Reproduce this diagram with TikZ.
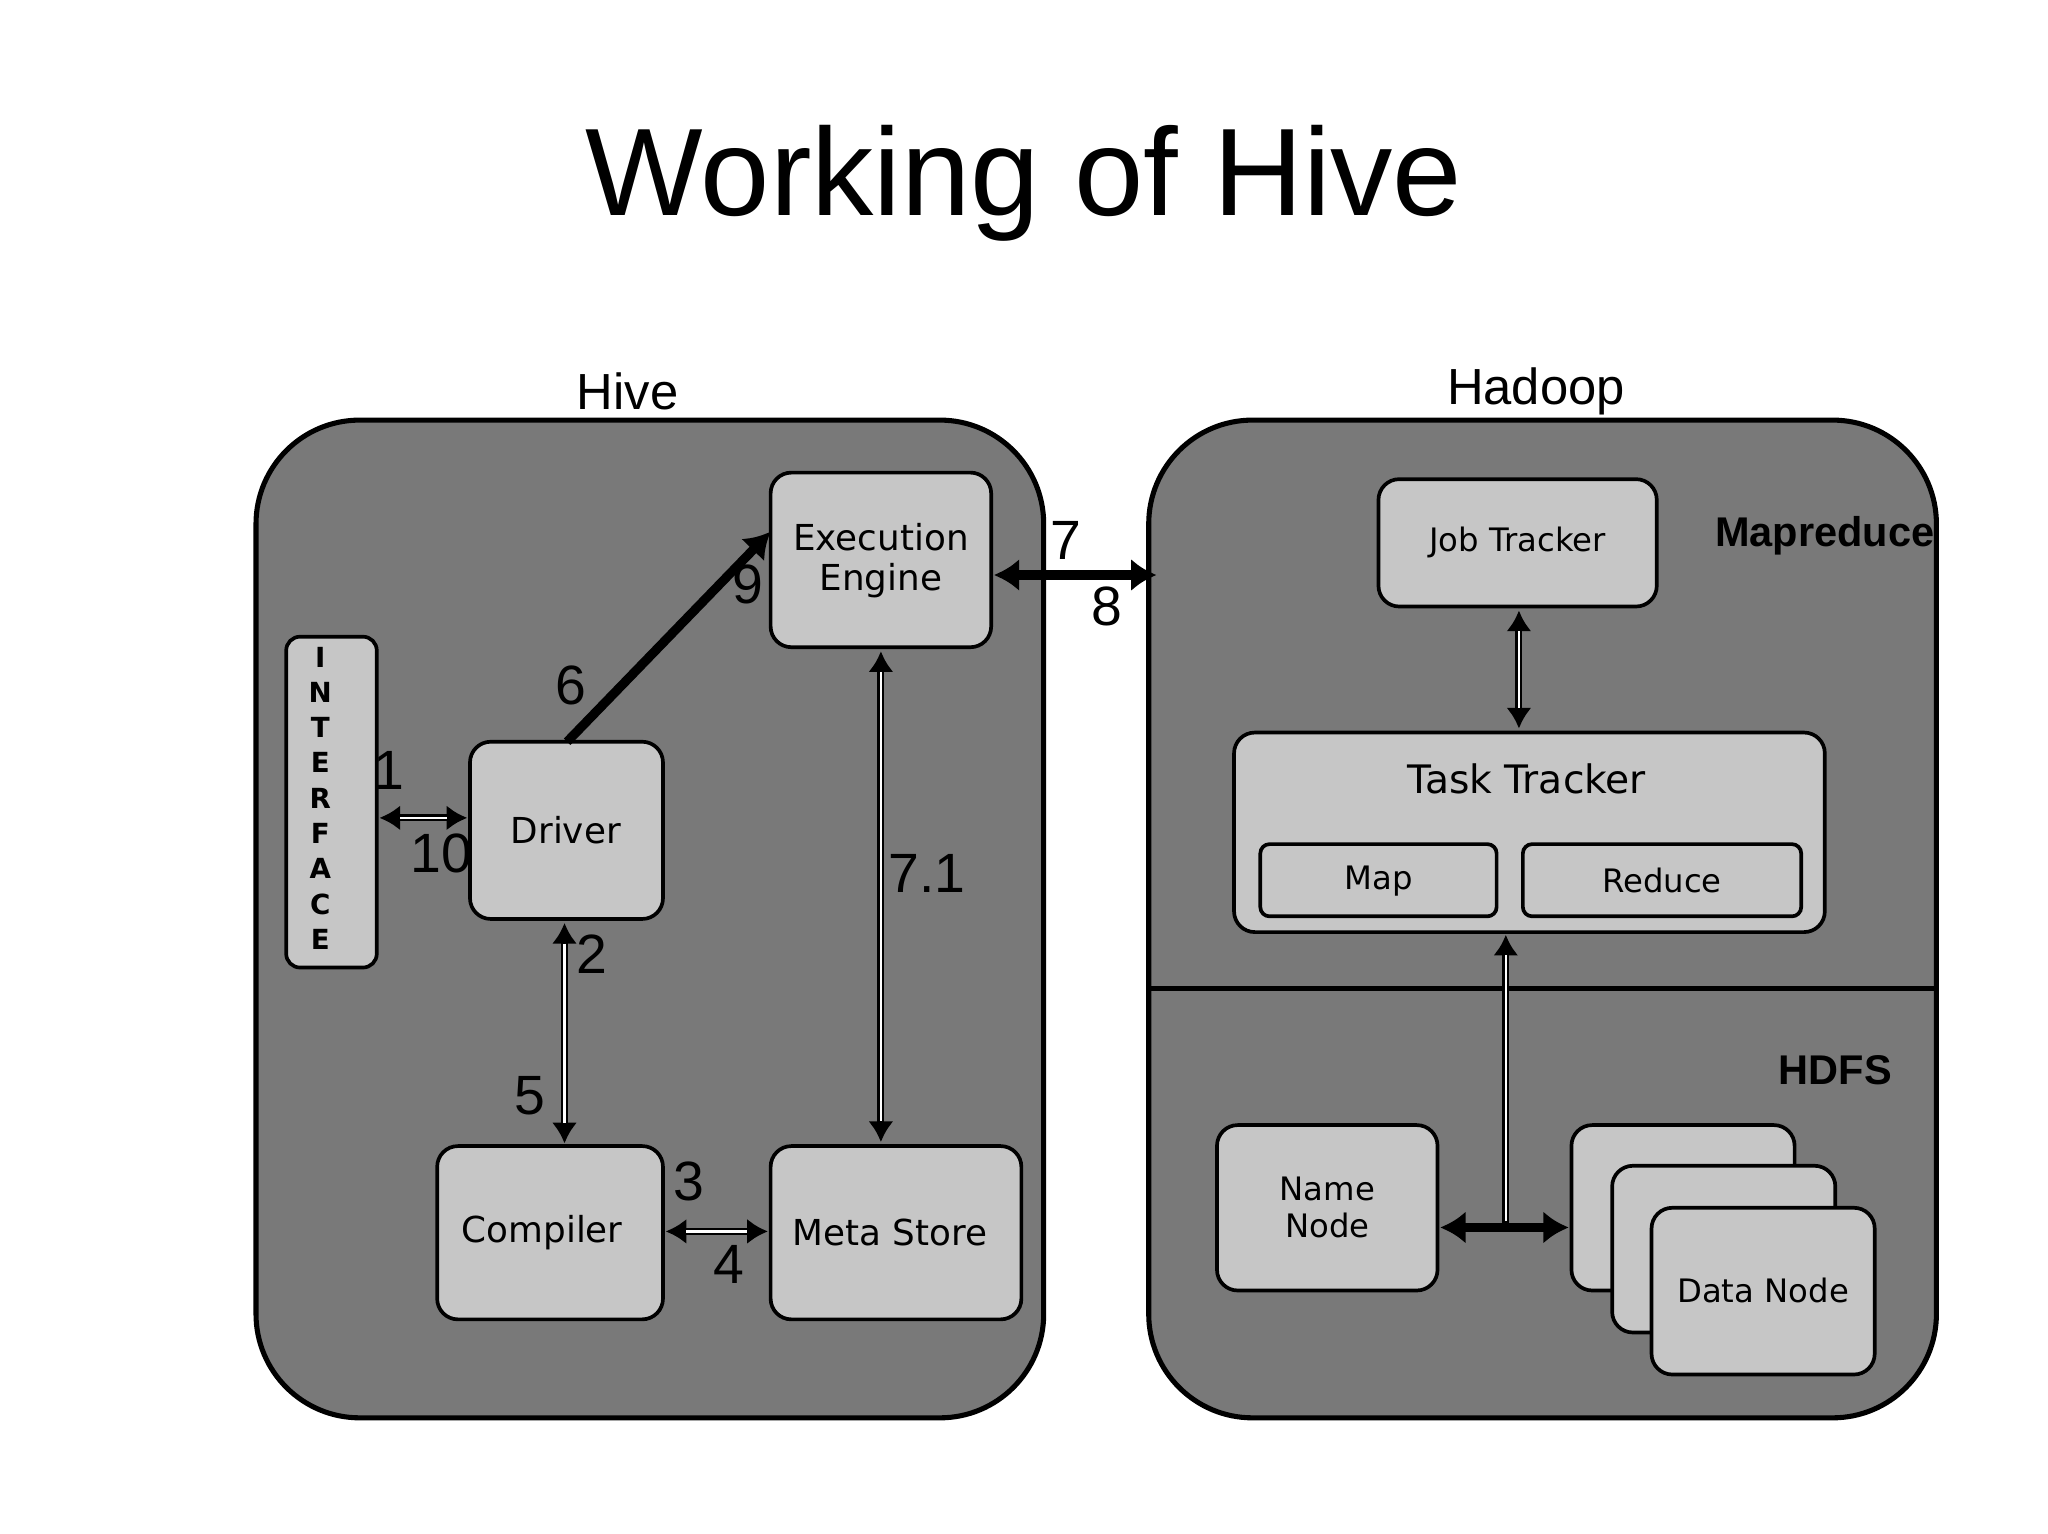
\documentclass[tikz,border=0pt]{standalone}
\usepackage{fontspec}
\setmainfont{Liberation Sans}
\newfontfamily\dv{DejaVu Sans}
\usetikzlibrary{arrows.meta}
\begin{document}
\begin{tikzpicture}[x=0.02cm,y=-0.02cm,
 panel/.style={draw=black,line width=2.2pt,fill=gray!95!black,rounded corners=45pt},
 box/.style={draw=black,line width=1.6pt,fill=gray!45,rounded corners=9pt},
 lbl/.style={font=\dv\fontsize{15.5}{17.5}\selectfont,align=center},
 sml/.style={font=\dv\fontsize{14}{16}\selectfont,align=center},
 num/.style={font=\fontsize{24}{26}\selectfont},
 warr/.style={line width=3pt,black,{Latex[length=9pt,width=11pt]}-{Latex[length=9pt,width=11pt]}},
 barr/.style={line width=4pt,black,{Latex[length=11pt,width=14pt]}-{Latex[length=11pt,width=14pt]}}]
\useasboundingbox (0,0) rectangle (1560,1168);
\newcommand{\wa}[2]{\draw[warr] #1 -- #2; \draw[white,line width=1pt,shorten <=9pt,shorten >=9pt] #1 -- #2;}
\node[font=\fontsize{54}{58}\selectfont] (title) at (780,140) {Working of Hive};
\node[font=\fontsize{22}{24}\selectfont] (hivet) at (478,298) {Hive};
\node[font=\fontsize{22}{24}\selectfont] (hadt) at (1170,298) {Hadoop};
\draw[panel] (195,320) rectangle (795,1080);
\draw[panel] (875,320) rectangle (1475,1080);
\draw[line width=2pt] (875,753) -- (1475,753);
\draw[box] (587,360) rectangle (755,493); \node[lbl] (ee) at (671,427) {Execution\\Engine};
\draw[box,rounded corners=6pt] (218,485) rectangle (287,737);
\node[font=\dv\bfseries\fontsize{12}{15.3}\selectfont,align=center] (iface) at (244,608) {I\\N\\T\\E\\R\\F\\A\\C\\E};
\draw[box] (358,565) rectangle (505,700); \node[lbl] (drv) at (431,632) {Driver};
\draw[box] (333,873) rectangle (505,1005); \node[lbl] (comp) at (413,939) {Compiler};
\draw[box] (587,873) rectangle (778,1005); \node[lbl] (ms) at (678,939) {Meta Store};
\draw[box] (1050,365) rectangle (1262,462); \node[sml] (jt) at (1156,413) {Job Tracker};
\draw[box] (940,558) rectangle (1390,710); \node[lbl,font=\dv\fontsize{17}{19}\selectfont] (tt) at (1163,593) {Task Tracker};
\draw[box,rounded corners=4pt] (960,643) rectangle (1140,698); \node[sml] (map) at (1050,671) {Map};
\draw[box,rounded corners=4pt] (1160,643) rectangle (1372,698); \node[sml] (red) at (1266,671) {Reduce};
\draw[box] (927,857) rectangle (1095,983); \node[sml] (nn) at (1011,920) {Name\\Node};
\draw[box] (1197,857) rectangle (1367,983);
\draw[box] (1228,888) rectangle (1398,1015);
\draw[box] (1258,920) rectangle (1428,1047); \node[sml] (dn) at (1343,983) {Data Node};
\node[font=\bfseries\fontsize{18}{20}\selectfont] (mr) at (1390,408) {Mapreduce};
\node[font=\bfseries\fontsize{18}{20}\selectfont] (hdfs) at (1398,815) {HDFS};
% arrows
\wa{(289,623)}{(356,623)}
\wa{(430,703)}{(430,871)}
\wa{(507,938)}{(585,938)}
\wa{(671,496)}{(671,870)}
\wa{(1157,465)}{(1157,555)}
\draw[line width=4pt,-{Latex[length=11pt,width=14pt]}] (432,565) -- (587,405);
\draw[barr] (757,438) -- (881,438);
\draw[barr] (1097,935) -- (1195,935);
\draw[warr,{Latex[length=9pt,width=11pt]}-] (1147,712) -- (1147,935);
\draw[white,line width=1pt,shorten <=9pt] (1147,712) -- (1147,930);
\node[num] at (296,587) {1}; \node[num] at (336,650) {10};
\node[num] at (435,522) {6}; \node[num] at (570,445) {9};
\node[num] at (451,727) {2}; \node[num] at (404,835) {5};
\node[num] at (525,900) {3}; \node[num] at (555,963) {4};
\node[num] at (706,665) {7.1};
\node[num] at (812,412) {7}; \node[num] at (843,462) {8};
\end{tikzpicture}
\end{document}
